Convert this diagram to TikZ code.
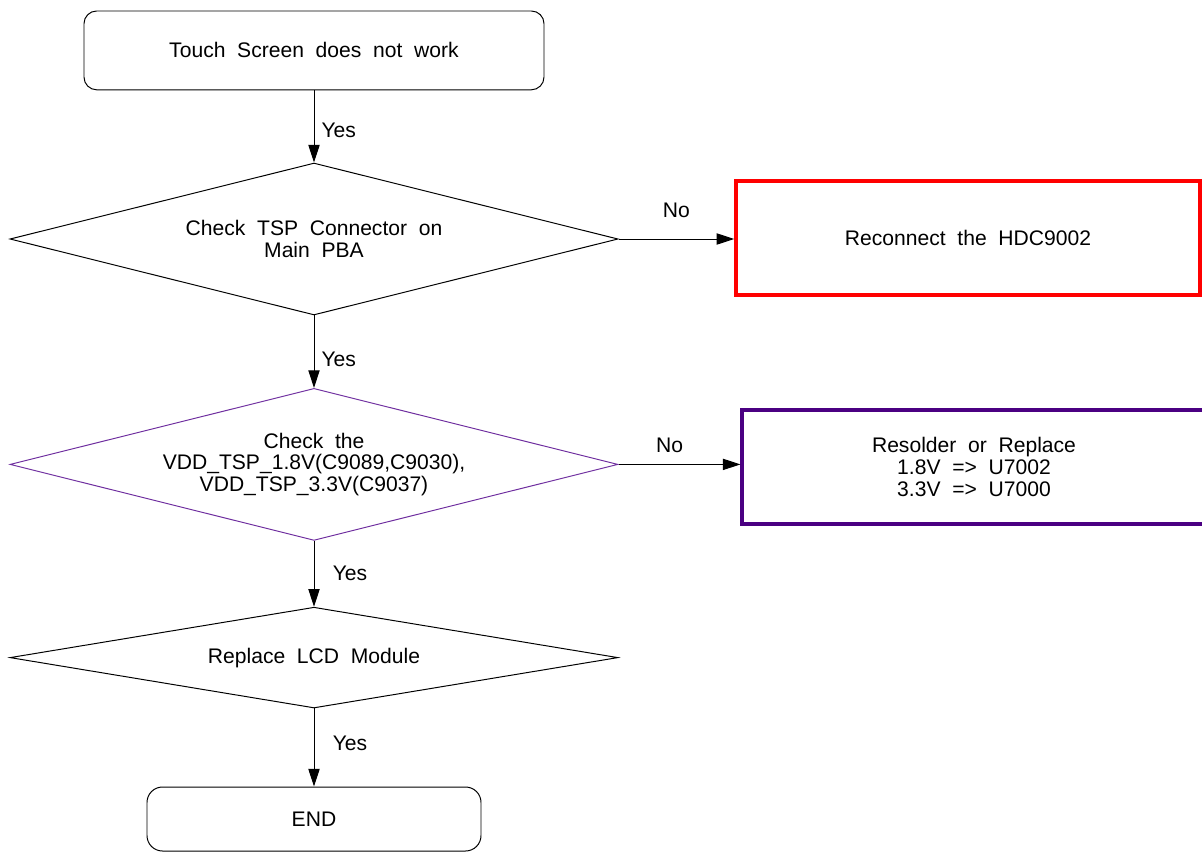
\documentclass[tikz,border=0pt]{standalone}
\usepackage{fontspec}
\setmainfont{Liberation Sans}[WordSpace=2]
\usetikzlibrary{arrows.meta, positioning, shapes.geometric}
\definecolor{failred}{HTML}{FF0000}
\definecolor{fixpurple}{HTML}{4B0082}
\definecolor{checkpurple}{HTML}{7030A0}

\begin{document}
\begin{tikzpicture}[
    font=\fontsize{15}{15.5}\selectfont,
    termbox/.style={rectangle, rounded corners=9pt, draw=black, line width=0.7pt,
                    align=center},
    checkbox/.style={diamond, aspect=4, draw=black, line width=0.7pt, align=center,
                     inner sep=1pt, minimum width=15.2cm, minimum height=3.8cm},
    fixbox/.style={rectangle, draw=failred, line width=2.5pt, align=center,
                   minimum width=11.6cm, minimum height=2.85cm},
    arrow/.style={-{Triangle[length=12.5pt, width=8pt]}, line width=0.7pt, draw=black},
    answer/.style={inner sep=1pt}
  ]
    % Page frame with the margins of the original sheet
    \useasboundingbox (0cm, 0cm) rectangle (30.05cm, -21.3cm);

    % Main column of checks
    \node[termbox, minimum width=11.5cm, minimum height=1.97cm] (start) at (7.85cm, -1.26cm)
      {Touch Screen does not work};
    \node[checkbox] (tspconn) at (7.85cm, -5.975cm)
      {Check TSP Connector on\\Main PBA};
    \node[checkbox, draw=checkpurple] (tsppower) at (7.85cm, -11.61cm)
      {Check the\\VDD\_TSP\_1.8V(C9089,C9030),\\VDD\_TSP\_3.3V(C9037)};
    \node[checkbox, aspect=6, minimum height=2.52cm] (lcd) at (7.85cm, -16.44cm)
      {Replace LCD Module};
    \node[termbox, rounded corners=11pt, minimum width=8.35cm, minimum height=1.6cm] (finish)
      at (7.85cm, -20.475cm) {END};

    % Repair actions on the right
    \node[fixbox] (reconnect) at (24.2cm, -5.95cm) {Reconnect the HDC9002};
    \node[fixbox, draw=fixpurple, line width=2.2pt] (resolder) at (24.35cm, -11.675cm)
      {Resolder or Replace\\1.8V => U7002\\3.3V => U7000};

    % Yes path
    \draw[arrow] (start) -- (tspconn)
      node[answer, pos=.55, right=4pt] {Yes};
    \draw[arrow] (tspconn) -- (tsppower)
      node[answer, pos=.6, right=4pt] {Yes};
    \draw[arrow] (tsppower) -- (lcd)
      node[answer, midway, right=12pt] {Yes};
    \draw[arrow] (lcd) -- (finish)
      node[answer, pos=.45, right=12pt] {Yes};

    % No branches
    \draw[arrow] (tspconn.east) -- (tspconn.east -| reconnect.west)
      node[answer, midway, above=14pt] {No};
    \draw[arrow] (tsppower.east) -- (tsppower.east -| resolder.west)
      node[answer, pos=.42, above=7pt] {No};
  \end{tikzpicture}
\end{document}
